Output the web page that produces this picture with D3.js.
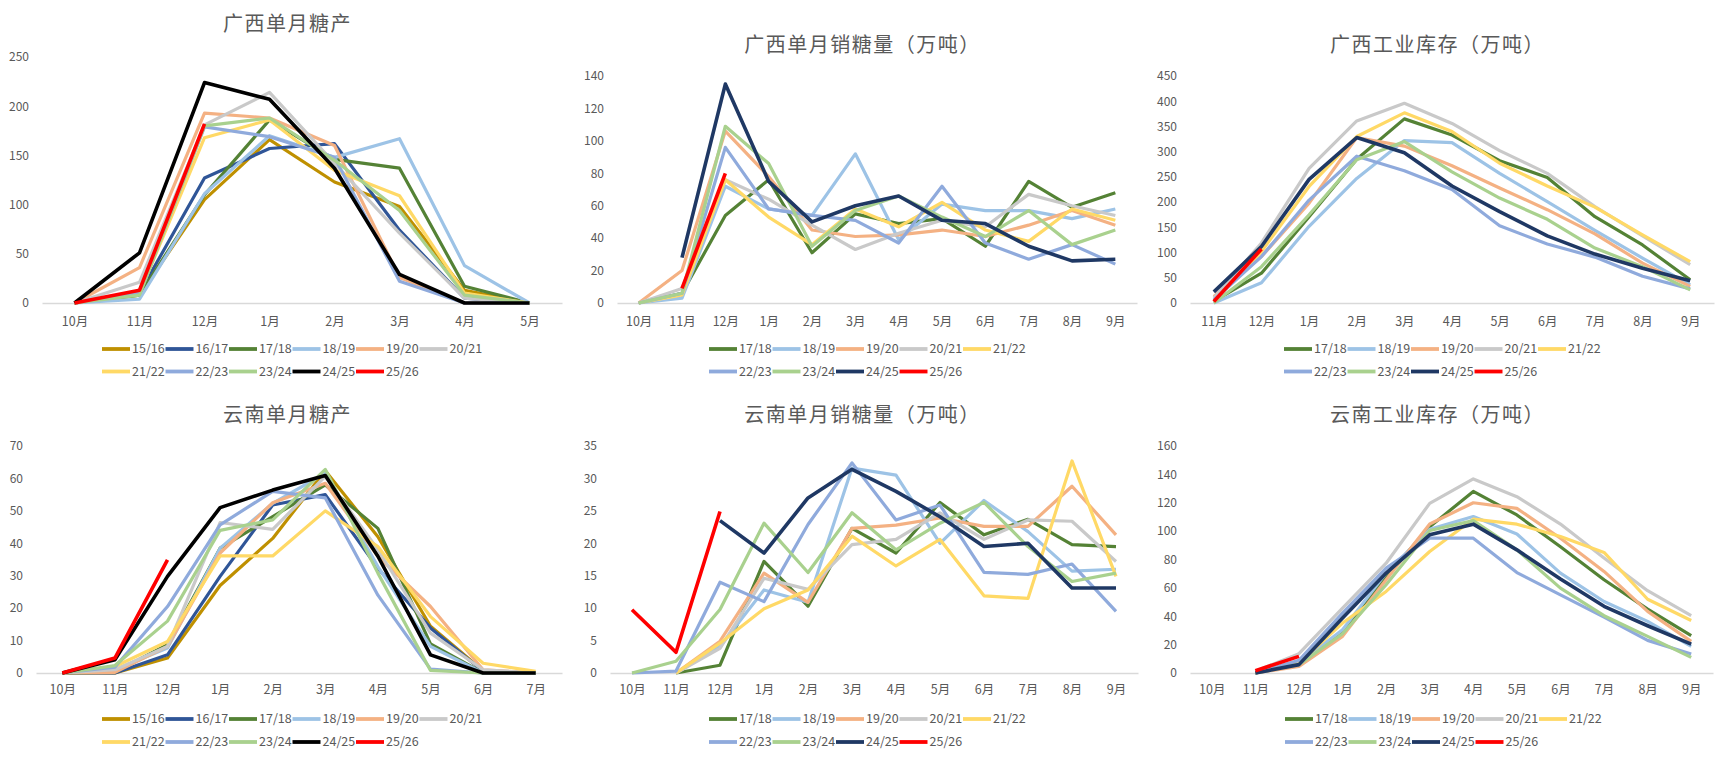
<!DOCTYPE html>
<html>
<head>
<meta charset="utf-8">
<script src="https://cdn.jsdelivr.net/npm/d3@7"></script>
<style>
  body { margin: 0; background: #fff; }
  svg { display: block; }
  text { font-family: "Noto Sans CJK SC", "Noto Sans", sans-serif; }
</style>
</head>
<body>
<svg id="chart" width="1726" height="760"></svg>
<script>
// ---- categories ----
const monthsOctMay = ["10月", "11月", "12月", "1月", "2月", "3月", "4月", "5月"];
const monthsOctSep = ["10月", "11月", "12月", "1月", "2月", "3月", "4月", "5月", "6月", "7月", "8月", "9月"];
const monthsNovSep = ["11月", "12月", "1月", "2月", "3月", "4月", "5月", "6月", "7月", "8月", "9月"];
const monthsOctJul = ["10月", "11月", "12月", "1月", "2月", "3月", "4月", "5月", "6月", "7月"];

const seasonsLong = ["15/16", "16/17", "17/18", "18/19", "19/20", "20/21", "21/22", "22/23", "23/24", "24/25", "25/26"];
const seasonsShort = ["17/18", "18/19", "19/20", "20/21", "21/22", "22/23", "23/24", "24/25", "25/26"];

// ---- 广西单月糖产 (10月-5月) ----
const gxProduction = [
  [0, 8, 105, 166, 123, 98, 13, 0],      // 15/16
  [0, 10, 127, 157, 162, 74, 5, 0],      // 16/17
  [0, 8, 110, 186, 146, 137, 17, 0],     // 17/18
  [0, 4, 111, 170, 148, 167, 38, 0],     // 18/19
  [0, 36, 193, 188, 160, 26, 0, 0],      // 19/20
  [0, 21, 181, 214, 142, 71, 5, 0],      // 20/21
  [0, 10, 168, 186, 135, 109, 10, 0],    // 21/22
  [0, 10, 179, 169, 148, 22, 0, 0],      // 22/23
  [0, 8, 180, 188, 145, 94, 8, 0],       // 23/24
  [0, 51, 224, 207, 137, 29, 0, 0],      // 24/25
  [0, 13, 182, null, null, null, null, null] // 25/26
];

// ---- 广西单月销糖量 (10月-9月) ----
const gxSales = [
  [0, 6, 54, 76, 31, 55, 49, 52, 35, 75, 59, 68],      // 17/18
  [0, 3, 72, 58, 54, 92, 39, 61, 57, 57, 52, 58],      // 18/19
  [0, 20, 106, 78, 45, 41, 42, 45, 41, 48, 57, 48],    // 19/20
  [0, 9, 76, 64, 48, 33, 43, 51, 47, 67, 60, 54],      // 20/21
  [0, 5, 76, 53, 36, 58, 47, 62, 45, 38, 58, 51],      // 21/22
  [0, 6, 96, 58, 54, 51, 37, 72, 37, 27, 36, 24],      // 22/23
  [0, 6, 109, 86, 35, 57, 66, 53, 41, 57, 36, 45],     // 23/24
  [null, 28, 135, 75, 50, 60, 66, 51, 49, 35, 26, 27], // 24/25
  [null, 9, 80, null, null, null, null, null, null, null, null, null] // 25/26
];

// ---- 广西工业库存 (11月-9月) ----
const gxStock = [
  [3, 59, 171, 285, 365, 333, 282, 249, 171, 115, 46],  // 17/18
  [0, 40, 152, 247, 322, 318, 257, 201, 144, 89, 36],   // 18/19
  [13, 92, 198, 328, 311, 272, 228, 185, 137, 79, 33],  // 19/20
  [10, 119, 267, 361, 396, 356, 302, 257, 191, 133, 76],// 20/21
  [3, 102, 231, 330, 377, 340, 277, 232, 190, 135, 82], // 21/22
  [6, 92, 204, 291, 262, 225, 153, 117, 91, 53, 28],    // 22/23
  [0, 72, 175, 284, 320, 260, 208, 166, 109, 72, 26],   // 23/24
  [22, 112, 245, 328, 298, 232, 181, 133, 97, 69, 44],  // 24/25
  [3, 107, null, null, null, null, null, null, null, null, null] // 25/26
];

// ---- 云南单月糖产 (10月-7月) ----
const ynProduction = [
  [0, 0, 4.6, 27, 41.5, 62.4, 42, 14.4, 0.7, 0],    // 15/16
  [0, 0, 5.6, 29.8, 51.8, 55, 32.3, 13.9, 0.5, 0],  // 16/17
  [0, 0.3, 8.7, 38.5, 48.2, 58, 44.6, 9, 0, 0],     // 17/18
  [0, 1, 7.7, 38.5, 52.3, 61.6, 32.8, 8.2, 0, 0],   // 18/19
  [0, 0.2, 8.2, 37, 52.5, 58.5, 36, 20.5, 1, 0],    // 19/20
  [0, 1, 8.2, 46.4, 44.3, 60.6, 38, 12.3, 1, 0],    // 20/21
  [0, 2, 9.7, 36.1, 36.1, 50, 39, 17.4, 3, 0.5],    // 21/22
  [0, 1.8, 20.5, 45.7, 56, 54, 24, 1.2, 0, 0],      // 22/23
  [0, 2.3, 16, 44, 47.2, 62.8, 30.8, 0.8, 0, 0],    // 23/24
  [0, 4.1, 29.8, 51, 56.4, 60.9, 36, 5.6, 0, 0],    // 24/25
  [0, 4.6, 34.9, null, null, null, null, null, null, null] // 25/26
];

// ---- 云南单月销糖量 (10月-9月) ----
const ynSales = [
  [null, 0, 1.2, 17.2, 10.3, 22.3, 18.5, 26.3, 21.3, 23.7, 19.8, 19.5], // 17/18
  [null, 0, 4.1, 12.8, 10.9, 31.6, 30.5, 20, 26.6, 21.8, 15.7, 16],     // 18/19
  [null, 0, 4.9, 15.4, 10.9, 22.3, 22.8, 23.9, 22.6, 22.6, 28.8, 21.3], // 19/20
  [null, 0, 3.8, 14.6, 12.9, 19.8, 20.6, 24.7, 20.6, 23.6, 23.4, 17.2], // 20/21
  [null, 0, 4.6, 9.9, 12.8, 21.1, 16.5, 20.6, 11.9, 11.5, 32.7, 14.9],  // 21/22
  [0, 0.3, 14, 11, 22.9, 32.4, 23.6, 25.9, 15.5, 15.2, 16.8, 9.5],      // 22/23
  [0, 1.8, 9.8, 23.1, 15.5, 24.7, 19, 23.1, 26.3, 19.5, 14.1, 15.4],    // 23/24
  [null, null, 23.5, 18.5, 27, 31.4, 28, 24.1, 19.5, 20, 13.1, 13.1],   // 24/25
  [9.75, 3.2, 24.9, null, null, null, null, null, null, null, null, null] // 25/26
];

// ---- 云南工业库存 (10月-9月) ----
const ynStock = [
  [null, 0, 5.9, 28, 68, 103, 128, 111.4, 89, 65.7, 45, 26.3],        // 17/18
  [null, 0, 7, 30.5, 70.4, 101.3, 110.3, 98, 70.4, 50.4, 36.4, 18.8], // 18/19
  [null, 0, 4.7, 25.8, 65.7, 105, 120, 116, 95, 71.6, 43.4, 22.3],    // 19/20
  [null, 1.2, 13.6, 45.7, 77.4, 119.6, 136.8, 124.3, 105, 81, 58, 40.4], // 20/21
  [null, 0, 7, 35.2, 57.5, 85.6, 108.4, 104.9, 96.2, 85, 52, 37],     // 21/22
  [null, 0, 8.9, 42.2, 73.9, 95, 95, 70.8, 55.1, 39.4, 23, 13.4],     // 22/23
  [null, 0, 5.9, 27.7, 62.2, 100.4, 107.4, 86.8, 59.8, 40.4, 25.8, 11], // 23/24
  [null, 0, 5.9, 38.7, 70.4, 97.4, 104.9, 86.8, 66.2, 47, 33.3, 20.4], // 24/25
  [null, 1.6, 11.7, null, null, null, null, null, null, null, null, null] // 25/26
];

// ---- colours ----
const seasonColor = {
  "15/16": "#BF9000", "16/17": "#2F5597", "17/18": "#548235", "18/19": "#9DC3E6",
  "19/20": "#F4B183", "20/21": "#C9C9C9", "21/22": "#FFD966", "22/23": "#8FAADC",
  "23/24": "#A9D18E", "24/25": "#1F3864", "25/26": "#FF0000"
};

const svg = d3.select("#chart");
const textColor = "#595959";

function drawPanel(p) {
  const g = svg.append("g").attr("transform", `translate(${p.x0},${p.y0})`);

  // title
  g.append("text")
    .attr("x", 287.5)
    .attr("y", p.titleY)
    .attr("dy", "0.35em")
    .attr("text-anchor", "middle")
    .attr("fill", textColor)
    .style("font-size", "20px")
    .style("letter-spacing", "1.5px")
    .text(p.title);

  const x = d3.scalePoint().domain(p.cats).range([p.left, p.right]).padding(0.5);
  const y = d3.scaleLinear().domain([0, p.yMax]).range([p.base, p.top]);

  // y axis (labels only)
  const yAxis = g.append("g")
    .attr("transform", `translate(${p.left},0)`)
    .call(d3.axisLeft(y).tickValues(d3.range(0, p.yMax + 1, p.yStep)).tickSize(0).tickPadding(13));
  yAxis.select(".domain").remove();
  yAxis.selectAll("text").attr("fill", textColor).style("font-size", "12px");

  // x axis with baseline
  const xAxis = g.append("g")
    .attr("transform", `translate(0,${p.base})`)
    .call(d3.axisBottom(x).tickSize(0).tickPadding(p.labelPad));
  xAxis.select(".domain").attr("stroke", "#D9D9D9").attr("stroke-width", 1.3);
  xAxis.selectAll("text").attr("fill", textColor).style("font-size", "12.5px");

  const line = d3.line()
    .defined(d => d.v != null)
    .x(d => x(d.c))
    .y(d => y(d.v));

  p.seasons.forEach((s, i) => {
    const pts = p.cats.map((c, j) => ({ c: c, v: p.values[i][j] }));
    const color = (s === "24/25" && p.blackLast) ? "#000000" : seasonColor[s];
    g.append("path")
      .datum(pts)
      .attr("fill", "none")
      .attr("stroke", color)
      .attr("stroke-width", (s === "24/25" || s === "25/26") ? 3.6 : 3.2)
      .attr("stroke-linejoin", "round")
      .attr("d", line);
  });

  // legend
  const pitch = 63.5;
  p.seasons.forEach((s, i) => {
    const row = Math.floor(i / p.perRow);
    const col = i % p.perRow;
    const lx = p.legendX + col * pitch;
    const ly = p.legendY[row];
    const color = (s === "24/25" && p.blackLast) ? "#000000" : seasonColor[s];
    g.append("line")
      .attr("x1", lx).attr("x2", lx + 28)
      .attr("y1", ly).attr("y2", ly)
      .attr("stroke", color)
      .attr("stroke-width", 3.8);
    g.append("text")
      .attr("x", lx + 30)
      .attr("y", ly)
      .attr("dy", "0.35em")
      .attr("fill", textColor)
      .style("font-size", "12.5px")
      .text(s);
  });
}

const topRow = { base: 303, labelPad: 14, legendY: [349, 371.5] };
const bottomRow = { base: 293, labelPad: 12, legendY: [339, 362], top: 66, titleY: 35 };

drawPanel(Object.assign({}, topRow, {
  x0: 0, y0: 0, title: "广西单月糖产", titleY: 24, top: 57, left: 42, right: 562,
  cats: monthsOctMay, seasons: seasonsLong, values: gxProduction, yMax: 250, yStep: 50,
  legendX: 102, perRow: 6, blackLast: true
}));
drawPanel(Object.assign({}, topRow, {
  x0: 575, y0: 0, title: "广西单月销糖量（万吨）", titleY: 45, top: 76, left: 42, right: 562,
  cats: monthsOctSep, seasons: seasonsShort, values: gxSales, yMax: 140, yStep: 20,
  legendX: 134, perRow: 5, blackLast: false
}));
drawPanel(Object.assign({}, topRow, {
  x0: 1150, y0: 0, title: "广西工业库存（万吨）", titleY: 45, top: 76, left: 40, right: 564,
  cats: monthsNovSep, seasons: seasonsShort, values: gxStock, yMax: 450, yStep: 50,
  legendX: 134, perRow: 5, blackLast: false
}));
drawPanel(Object.assign({}, bottomRow, {
  x0: 0, y0: 380, title: "云南单月糖产", left: 36, right: 562,
  cats: monthsOctJul, seasons: seasonsLong, values: ynProduction, yMax: 70, yStep: 10,
  legendX: 102, perRow: 6, blackLast: true
}));
drawPanel(Object.assign({}, bottomRow, {
  x0: 575, y0: 380, title: "云南单月销糖量（万吨）", left: 35, right: 563,
  cats: monthsOctSep, seasons: seasonsShort, values: ynSales, yMax: 35, yStep: 5,
  legendX: 134, perRow: 5, blackLast: false
}));
drawPanel(Object.assign({}, bottomRow, {
  x0: 1150, y0: 380, title: "云南工业库存（万吨）", left: 40, right: 563,
  cats: monthsOctSep, seasons: seasonsShort, values: ynStock, yMax: 160, yStep: 20,
  legendX: 135, perRow: 5, blackLast: false
}));
</script>
</body>
</html>
